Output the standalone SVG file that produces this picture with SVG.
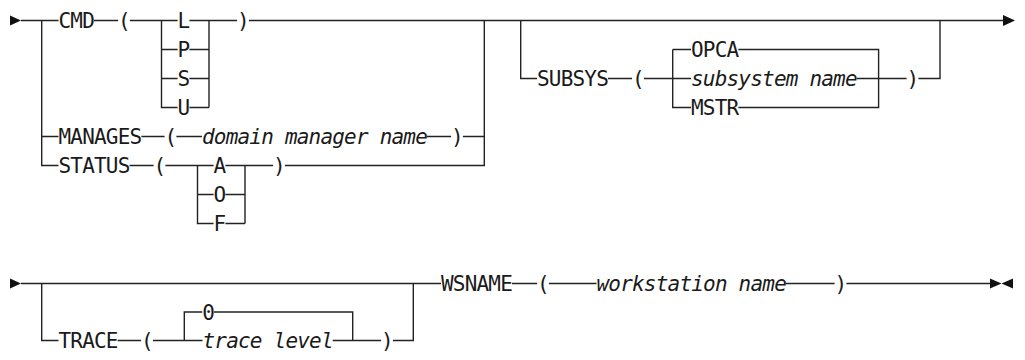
<svg xmlns="http://www.w3.org/2000/svg" width="1025" height="360" viewBox="0 0 1025 360">
<style>
  .t { font-family: "DejaVu Sans Mono", "Liberation Mono", monospace; font-size: 21px; letter-spacing: -0.8px; fill: #1a1a1a; }
  .i { font-style: italic; }
  .m { text-anchor: middle; }
  .ln { fill: none; stroke: #222; stroke-width: 1.4; }
  .ar { fill: #111; stroke: none; }
</style>
<rect width="1025" height="360" fill="#fff"/>
<g id="connectors">
  <!-- section 1 main line -->
  <path class="ln" d="M21 20.5H58.5 M94 20.5H118.1 M129.9 20.5H177.6 M189.4 20.5H237.1 M248.9 20.5H1003"/>
  <polygon class="ar" points="10,15.5 21,20.5 10,25.5"/>
  <polygon class="ar" points="1003,15 1015,20.5 1003,26"/>
  <!-- left branch -->
  <path class="ln" d="M41.7 20.5V165.5H58.5 M41.7 136.5H58.5"/>
  <!-- CMD choices -->
  <path class="ln" d="M161.5 20.5V107.5H177.6 M161.5 49.5H177.6 M161.5 78.5H177.6 M189.4 49.5H209 M189.4 78.5H209 M189.4 107.5H209 M209 20.5V107.5"/>
  <!-- MANAGES row -->
  <path class="ln" d="M141.4 136.5H164.6 M176.4 136.5H202 M427 136.5H451.1 M462.9 136.5H484.3"/>
  <!-- STATUS row -->
  <path class="ln" d="M129.5 165.5H153.6 M165.4 165.5H213.6 M225.4 165.5H273.1 M284.9 165.5H484.3V20.5"/>
  <path class="ln" d="M197.5 165.5V223.5H213.6 M197.5 194.5H213.6 M225.4 194.5H245 M225.4 223.5H245 M245 165.5V223.5"/>
  <!-- SUBSYS branch -->
  <path class="ln" d="M520.7 20.5V78.5H537 M608 78.5H632.1 M643.9 78.5H691 M856.8 78.5H906.6 M918.4 78.5H940V20.5"/>
  <path class="ln" d="M672.7 49.5V107.5H691 M672.7 49.5H691 M738.4 49.5H878.6V107.5H738.4"/>
  <!-- section 2 main line -->
  <path class="ln" d="M21 283.5H441 M512 283.5H537.1 M548.9 283.5H596.5 M785.9 283.5H834.6 M846.4 283.5H990"/>
  <polygon class="ar" points="10,278.5 21,283.5 10,288.5"/>
  <polygon class="ar" points="990,278.5 1001.5,283.5 990,288.5"/>
  <polygon class="ar" points="1013,278.5 1001.5,283.5 1013,288.5"/>
  <!-- TRACE branch -->
  <path class="ln" d="M41.7 283.5V340.5H58.5 M117.7 340.5H141.1 M152.9 340.5H202.5 M332.7 340.5H381.1 M392.9 340.5H413.3V283.5"/>
  <path class="ln" d="M184.3 340.5V312H202.3 M213.9 312H352.7V340.5"/>
</g>
<g id="n-cmd"><text class="t" x="58.5" y="28.2">CMD</text></g>
<g id="n-cmd-lp"><text class="t m" x="124" y="28.2">(</text></g>
<g id="n-cmd-l"><text class="t m" x="183.5" y="28.2">L</text></g>
<g id="n-cmd-p"><text class="t m" x="183.5" y="57.2">P</text></g>
<g id="n-cmd-s"><text class="t m" x="183.5" y="86.2">S</text></g>
<g id="n-cmd-u"><text class="t m" x="183.5" y="115.2">U</text></g>
<g id="n-cmd-rp"><text class="t m" x="243" y="28.2">)</text></g>
<g id="n-manages"><text class="t" x="58.5" y="144.2">MANAGES</text></g>
<g id="n-manages-lp"><text class="t m" x="170.5" y="144.2">(</text></g>
<g id="n-domain"><text class="t i" x="202" y="144.2">domain manager name</text></g>
<g id="n-manages-rp"><text class="t m" x="457" y="144.2">)</text></g>
<g id="n-status"><text class="t" x="58.5" y="173.2">STATUS</text></g>
<g id="n-status-lp"><text class="t m" x="159.5" y="173.2">(</text></g>
<g id="n-status-a"><text class="t m" x="219.5" y="173.2">A</text></g>
<g id="n-status-o"><text class="t m" x="219.5" y="202.2">O</text></g>
<g id="n-status-f"><text class="t m" x="219.5" y="231.2">F</text></g>
<g id="n-status-rp"><text class="t m" x="279" y="173.2">)</text></g>
<g id="n-subsys"><text class="t" x="537" y="86.2">SUBSYS</text></g>
<g id="n-subsys-lp"><text class="t m" x="638" y="86.2">(</text></g>
<g id="n-opca"><text class="t" x="691" y="57.2">OPCA</text></g>
<g id="n-subsysname"><text class="t i" x="691" y="86.2">subsystem name</text></g>
<g id="n-mstr"><text class="t" x="691" y="115.2">MSTR</text></g>
<g id="n-subsys-rp"><text class="t m" x="912.5" y="86.2">)</text></g>
<g id="n-trace"><text class="t" x="58.5" y="348.2">TRACE</text></g>
<g id="n-trace-lp"><text class="t m" x="147" y="348.2">(</text></g>
<g id="n-trace-0"><text class="t m" x="208.1" y="319.7">0</text></g>
<g id="n-tracelevel"><text class="t i" x="202.5" y="348.2">trace level</text></g>
<g id="n-trace-rp"><text class="t m" x="387" y="348.2">)</text></g>
<g id="n-wsname"><text class="t" x="441" y="291.2">WSNAME</text></g>
<g id="n-wsname-lp"><text class="t m" x="543" y="291.2">(</text></g>
<g id="n-wsname-val"><text class="t i" x="596.5" y="291.2">workstation name</text></g>
<g id="n-wsname-rp"><text class="t m" x="840.5" y="291.2">)</text></g>
</svg>
